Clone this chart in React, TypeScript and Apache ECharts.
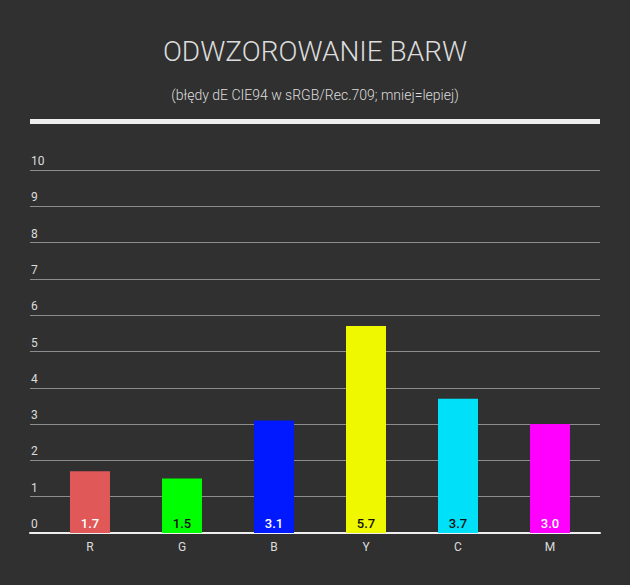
import React, { useEffect, useRef } from "react";
import * as echarts from "echarts";

const categories = ["R", "G", "B", "Y", "C", "M"];
const values = [1.7, 1.5, 3.1, 5.7, 3.7, 3.0];
const barColors = ["#e05858", "#00ff00", "#0019ff", "#f0f800", "#00e0f8", "#ff00ff"];
const labelColors = ["#ffffff", "#111111", "#ffffff", "#111111", "#111111", "#ffffff"];
const yTicks = [0, 10, 1];

const titleText = "ODWZOROWANIE BARW";
const subtitleText = "(błędy dE CIE94 w sRGB/Rec.709; mniej=lepiej)";

export default function App() {
  const ref = useRef<HTMLDivElement>(null);
  useEffect(() => {
    if (!ref.current) return;
    const chart = echarts.init(ref.current, null, { renderer: "svg" });
    const font = "Roboto";
    chart.setOption({
      animation: false,
      backgroundColor: "#303030",
      textStyle: { fontFamily: font },
      title: [
        {
          text: titleText,
          left: "center",
          top: 32,
          textStyle: { color: "#dcdcdc", fontSize: 28, fontWeight: 300, fontFamily: font },
        },
        {
          text: subtitleText,
          left: "center",
          top: 83,
          textStyle: { color: "#dcdcdc", fontSize: 14, fontWeight: 300, fontFamily: font },
        },
      ],
      graphic: [
        {
          type: "rect",
          shape: { x: 30, y: 119, width: 570, height: 5 },
          style: { fill: "#eeeeee" },
        },
      ],
      grid: [
        { left: 30, right: 30, top: 170, bottom: 52 },
        { left: 44, right: 34, top: 170, bottom: 52 },
      ],
      xAxis: [
        {
          type: "category",
          gridIndex: 0,
          data: categories,
          axisLine: { show: true, lineStyle: { color: "#eeeeee", width: 2 } },
          axisTick: { show: false },
          axisLabel: { show: false },
          splitLine: { show: false },
        },
        {
          type: "category",
          gridIndex: 1,
          data: categories,
          axisLine: { show: false },
          axisTick: { show: false },
          axisLabel: { color: "#dcdcdc", fontSize: 12, margin: 8, fontFamily: font },
        },
      ],
      yAxis: [
        {
          type: "value",
          gridIndex: 0,
          min: yTicks[0],
          max: yTicks[1],
          interval: yTicks[2],
          axisLine: { show: false },
          axisTick: { show: false },
          splitLine: { show: true, lineStyle: { color: "#8c8c8c", width: 1 } },
          axisLabel: {
            inside: true,
            margin: 1,
            verticalAlign: "bottom",
            padding: [0, 0, 3, 0],
            color: "#dcdcdc",
            fontSize: 12,
            fontFamily: font,
          },
        },
        {
          type: "value",
          gridIndex: 1,
          min: yTicks[0],
          max: yTicks[1],
          interval: yTicks[2],
          show: false,
          splitLine: { show: false },
        },
      ],
      series: [
        {
          type: "bar",
          xAxisIndex: 1,
          yAxisIndex: 1,
          barWidth: 40,
          data: values.map((v, i) => ({
            value: v,
            itemStyle: { color: barColors[i] },
            label: { color: labelColors[i] },
          })),
          label: {
            show: true,
            position: "insideBottom",
            distance: 3,
            fontSize: 13,
            fontWeight: 500,
            fontFamily: font,
            formatter: (p: any) => Number(p.value).toFixed(1),
          },
        },
      ],
    });
    return () => chart.dispose();
  }, []);
  return (
    <div
      ref={ref}
      style={{ position: "fixed", left: 0, top: 0, width: 630, height: 585 }}
    />
  );
}
